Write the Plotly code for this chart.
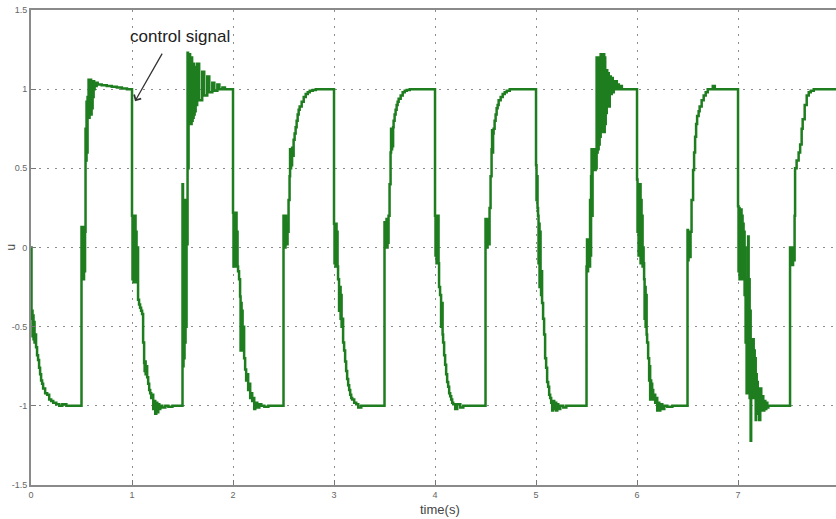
import plotly.graph_objects as go

# ---- data (time in s, control signal u) ----
t_a = [0, 0.005, 0.01, 0.015, 0.02, 0.025, 0.03, 0.035, 0.04, 0.05, 0.06, 0.07, 0.08, 0.09, 0.10, 0.11, 0.12, 0.14, 0.16, 0.18, 0.20, 0.22, 0.25, 0.28, 0.31, 0.35]
u_a = [0, -0.45, -0.40, -0.56, -0.43, -0.58, -0.47, -0.60, -0.55, -0.63, -0.68, -0.71, -0.76, -0.80, -0.84, -0.86, -0.89, -0.92, -0.93, -0.96, -0.97, -0.98, -0.99, -1.0, -0.99, -1.0]

t_b = [0.5, 0.503, 0.507, 0.51, 0.515, 0.52, 0.525, 0.53, 0.535, 0.54, 0.545, 0.55, 0.555, 0.56, 0.565, 0.57, 0.575, 0.58, 0.585, 0.59, 0.595, 0.60, 0.605, 0.61, 0.615, 0.62, 0.625, 0.63, 0.64, 0.65, 0.66, 0.68, 0.70, 0.75, 0.80, 0.85, 0.90, 0.95]
u_b = [0.13, -0.2, 0.1, -0.18, 0.12, -0.2, 0.13, -0.15, 0.1, 0.75, 0.55, 0.92, 0.60, 0.95, 0.82, 1.06, 0.82, 1.05, 0.85, 1.06, 0.84, 1.05, 0.88, 1.04, 0.95, 1.05, 1.0, 1.04, 1.02, 1.04, 1.03, 1.03, 1.025, 1.02, 1.015, 1.01, 1.005, 1.0]

t_c = [1.0, 1.005, 1.01, 1.015, 1.02, 1.025, 1.03, 1.035, 1.04, 1.045, 1.05, 1.06, 1.07, 1.08, 1.09, 1.10, 1.11, 1.12, 1.125, 1.13, 1.135, 1.14, 1.15, 1.16, 1.17, 1.18, 1.19, 1.20, 1.21, 1.22, 1.23, 1.24, 1.25, 1.26, 1.27, 1.28, 1.30, 1.33, 1.36, 1.40]
u_c = [0.2, -0.2, 0.18, -0.22, 0.15, -0.2, 0.2, -0.18, 0.1, -0.22, 0.0, -0.33, -0.36, -0.38, -0.40, -0.42, -0.60, -0.73, -0.78, -0.72, -0.80, -0.75, -0.82, -0.86, -0.90, -0.92, -0.95, -0.93, -1.02, -0.97, -1.05, -0.98, -1.04, -0.99, -1.02, -1.0, -1.01, -1.0, -1.005, -1.0]

t_d = [1.5, 1.505, 1.51, 1.515, 1.52, 1.525, 1.53, 1.535, 1.54, 1.545, 1.55, 1.555, 1.56, 1.565, 1.57, 1.575, 1.58, 1.585, 1.59, 1.595, 1.60, 1.605, 1.61, 1.615, 1.62, 1.625, 1.63, 1.635, 1.645, 1.665, 1.695, 1.715, 1.745, 1.765, 1.795, 1.815, 1.845, 1.865, 1.895, 1.92]
u_d = [0.4, -0.75, 0.13, -0.7, 0.3, -0.6, 0.1, -0.5, 0.3, 0.02, 1.23, 0.5, 1.2, 0.78, 1.22, 0.8, 1.18, 0.78, 1.2, 0.8, 1.15, 0.82, 1.16, 0.84, 1.12, 0.86, 1.14, 0.9, 1.16, 0.93, 1.11, 0.96, 1.08, 0.98, 1.04, 0.99, 1.03, 1.0, 1.01, 1.0]

t_e = [2.0, 2.005, 2.01, 2.015, 2.02, 2.025, 2.03, 2.035, 2.04, 2.045, 2.05, 2.06, 2.07, 2.075, 2.08, 2.085, 2.09, 2.095, 2.10, 2.11, 2.12, 2.13, 2.14, 2.15, 2.16, 2.17, 2.18, 2.19, 2.20, 2.21, 2.22, 2.24, 2.26, 2.28, 2.31, 2.35]
u_e = [0.22, -0.12, 0.2, -0.1, 0.18, -0.12, 0.22, -0.08, 0.1, -0.12, -0.15, -0.2, -0.31, -0.65, -0.35, -0.6, -0.4, -0.65, -0.5, -0.7, -0.77, -0.84, -0.8, -0.9, -0.86, -0.95, -0.92, -0.97, -0.95, -1.02, -0.98, -1.01, -0.99, -1.0, -1.005, -1.0]

t_f = [2.5, 2.505, 2.51, 2.515, 2.52, 2.525, 2.53, 2.535, 2.54, 2.55, 2.56, 2.565, 2.57, 2.575, 2.58, 2.585, 2.59, 2.60, 2.61, 2.62, 2.63, 2.64, 2.65, 2.66, 2.68, 2.70, 2.72, 2.74, 2.76, 2.79, 2.82]
u_f = [0.2, 0.02, 0.18, 0.0, 0.2, 0.05, 0.15, 0.02, 0.1, 0.3, 0.45, 0.62, 0.5, 0.6, 0.52, 0.63, 0.58, 0.68, 0.72, 0.76, 0.80, 0.84, 0.87, 0.89, 0.92, 0.95, 0.97, 0.98, 0.99, 0.995, 1.0]

t_g = [3.0, 3.005, 3.01, 3.015, 3.02, 3.025, 3.03, 3.035, 3.04, 3.05, 3.06, 3.065, 3.07, 3.075, 3.08, 3.09, 3.10, 3.11, 3.12, 3.13, 3.14, 3.15, 3.16, 3.17, 3.18, 3.20, 3.22, 3.24, 3.27, 3.30]
u_g = [0.15, -0.1, 0.12, -0.12, 0.15, -0.05, 0.1, -0.12, -0.2, -0.4, -0.25, -0.45, -0.3, -0.5, -0.45, -0.6, -0.65, -0.72, -0.78, -0.83, -0.87, -0.9, -0.93, -0.95, -0.96, -0.98, -0.99, -1.01, -1.0, -1.0]

t_h = [3.5, 3.505, 3.51, 3.515, 3.52, 3.525, 3.53, 3.535, 3.54, 3.55, 3.56, 3.565, 3.57, 3.575, 3.58, 3.585, 3.59, 3.60, 3.61, 3.62, 3.63, 3.64, 3.66, 3.68, 3.70, 3.72, 3.75, 3.78]
u_h = [0.16, 0.0, 0.15, 0.02, 0.18, 0.0, 0.12, 0.03, 0.2, 0.4, 0.6, 0.75, 0.62, 0.74, 0.64, 0.76, 0.8, 0.84, 0.87, 0.9, 0.92, 0.94, 0.96, 0.98, 0.99, 0.995, 1.0, 1.0]

t_i = [4.0, 4.005, 4.01, 4.015, 4.02, 4.025, 4.03, 4.035, 4.04, 4.05, 4.06, 4.07, 4.075, 4.08, 4.09, 4.10, 4.11, 4.12, 4.13, 4.14, 4.15, 4.16, 4.17, 4.18, 4.20, 4.22, 4.25, 4.28, 4.32]
u_i = [0.2, -0.05, 0.18, -0.1, 0.15, -0.05, 0.2, -0.1, -0.25, -0.3, -0.5, -0.35, -0.55, -0.6, -0.68, -0.74, -0.8, -0.85, -0.88, -0.92, -0.94, -0.96, -0.98, -0.99, -1.02, -0.99, -1.01, -1.0, -1.0]

t_j = [4.5, 4.505, 4.51, 4.515, 4.52, 4.525, 4.53, 4.535, 4.54, 4.55, 4.56, 4.565, 4.57, 4.575, 4.58, 4.59, 4.60, 4.61, 4.62, 4.63, 4.65, 4.67, 4.69, 4.71, 4.74, 4.78]
u_j = [0.18, 0.02, 0.16, 0.0, 0.18, 0.04, 0.14, 0.02, 0.25, 0.45, 0.62, 0.74, 0.6, 0.72, 0.75, 0.8, 0.84, 0.88, 0.9, 0.93, 0.95, 0.97, 0.98, 0.99, 1.0, 1.0]

t_k = [5.0, 5.005, 5.01, 5.015, 5.02, 5.025, 5.03, 5.035, 5.04, 5.045, 5.05, 5.055, 5.06, 5.07, 5.08, 5.09, 5.10, 5.11, 5.12, 5.13, 5.14, 5.15, 5.16, 5.17, 5.18, 5.19, 5.20, 5.21, 5.22, 5.24, 5.27, 5.30, 5.35]
u_k = [0.52, 0.3, 0.45, 0.25, 0.2, -0.1, 0.15, -0.25, 0.1, -0.2, -0.3, -0.15, -0.35, -0.45, -0.55, -0.7, -0.76, -0.85, -0.88, -0.93, -0.95, -0.98, -1.03, -0.97, -1.02, -0.98, -1.03, -0.99, -1.02, -1.0, -1.01, -1.0, -1.0]

t_l = [5.5, 5.505, 5.51, 5.515, 5.52, 5.525, 5.53, 5.535, 5.54, 5.545, 5.55, 5.555, 5.56, 5.565, 5.57, 5.575, 5.58, 5.585, 5.59, 5.595, 5.60, 5.605, 5.61, 5.615, 5.62, 5.625, 5.63, 5.635, 5.64, 5.645, 5.65, 5.655, 5.66, 5.665, 5.67, 5.675, 5.68, 5.685, 5.69, 5.695, 5.70, 5.705, 5.71, 5.72, 5.73, 5.74, 5.75, 5.76, 5.77, 5.78, 5.79, 5.80, 5.81, 5.82, 5.83, 5.85, 5.88]
u_l = [-0.12, 0.05, -0.15, 0.02, -0.1, 0.05, -0.12, 0.3, -0.05, 0.45, 0.62, 0.2, 0.6, 0.49, 0.62, 0.5, 0.6, 0.49, 0.55, 0.5, 1.2, 0.6, 1.18, 0.62, 1.2, 0.65, 1.15, 0.7, 1.22, 0.73, 1.21, 0.75, 1.18, 0.8, 1.22, 0.73, 1.2, 0.78, 1.1, 0.85, 1.12, 0.9, 1.1, 0.89, 1.08, 0.97, 1.07, 0.98, 1.05, 1.0, 1.05, 1.0, 1.03, 1.0, 1.02, 1.0, 1.0]

t_m = [6.0, 6.005, 6.01, 6.015, 6.02, 6.025, 6.03, 6.035, 6.04, 6.045, 6.05, 6.055, 6.06, 6.065, 6.07, 6.075, 6.08, 6.085, 6.09, 6.095, 6.10, 6.11, 6.12, 6.125, 6.13, 6.135, 6.14, 6.145, 6.15, 6.16, 6.17, 6.18, 6.19, 6.20, 6.21, 6.22, 6.23, 6.25, 6.27, 6.30, 6.35]
u_m = [0.43, 0.1, 0.4, -0.05, 0.38, 0.0, 0.4, -0.1, 0.3, -0.1, 0.2, -0.12, 0.0, -0.1, -0.2, -0.45, -0.25, -0.5, -0.3, -0.55, -0.6, -0.7, -0.84, -0.75, -0.96, -0.84, -0.95, -0.86, -0.9, -0.96, -0.93, -0.98, -0.95, -1.03, -0.98, -1.03, -0.99, -1.02, -1.0, -1.005, -1.0]

t_n = [6.5, 6.505, 6.51, 6.515, 6.52, 6.525, 6.53, 6.54, 6.555, 6.565, 6.575, 6.585, 6.595, 6.61, 6.62, 6.64, 6.66, 6.68, 6.70, 6.73, 6.75, 6.77, 6.80]
u_n = [0.11, -0.08, 0.1, -0.05, 0.08, -0.06, 0.1, 0.3, 0.49, 0.6, 0.7, 0.78, 0.83, 0.86, 0.89, 0.93, 0.96, 0.98, 1.0, 1.0, 1.02, 1.0, 1.0]

t_o = [7.0, 7.005, 7.01, 7.015, 7.02, 7.025, 7.03, 7.035, 7.04, 7.045, 7.05, 7.055, 7.06, 7.065, 7.07, 7.075, 7.08, 7.085, 7.09, 7.095, 7.10, 7.105, 7.11, 7.115, 7.12, 7.125, 7.13, 7.135, 7.14, 7.145, 7.15, 7.155, 7.16, 7.165, 7.17, 7.175, 7.18, 7.185, 7.19, 7.195, 7.20, 7.21, 7.22, 7.23, 7.24, 7.25, 7.26, 7.27, 7.28, 7.29, 7.30, 7.32, 7.35]
u_o = [0.26, -0.15, 0.25, -0.2, 0.22, -0.18, 0.24, -0.1, 0.2, -0.2, 0.15, -0.2, 0.1, -0.3, 0.0, -0.6, -0.2, -0.92, -0.3, -0.85, 0.07, -0.9, -0.2, -0.95, -0.4, -1.22, -0.58, -0.92, -0.6, -0.95, -0.58, -0.9, -0.65, -0.92, -0.7, -1.09, -0.8, -0.95, -0.85, -1.05, -0.9, -1.09, -0.89, -1.03, -0.94, -1.03, -0.97, -1.02, -0.98, -1.01, -1.0, -1.0, -1.0]

t_p = [7.5, 7.515, 7.52, 7.525, 7.53, 7.535, 7.54, 7.545, 7.55, 7.56, 7.565, 7.58, 7.60, 7.615, 7.63, 7.64, 7.66, 7.68, 7.70, 7.72, 7.75, 7.80, 7.97]
u_p = [-1.0, 0.0, -0.11, 0.0, -0.1, -0.02, -0.11, 0.0, -0.08, 0.2, 0.5, 0.55, 0.6, 0.65, 0.75, 0.81, 0.9, 0.96, 0.98, 0.99, 1.0, 1.0, 1.0]

x_ticks = [0, 1, 2, 3, 4, 5, 6, 7]
y_ticks = [-1.5, -1, -0.5, 0, 0.5, 1, 1.5]
y_tick_labels = ["-1.5", "-1", "-0.5", "0", "0.5", "1", "1.5"]

t_all = t_a + t_b + t_c + t_d + t_e + t_f + t_g + t_h + t_i + t_j + t_k + t_l + t_m + t_n + t_o + t_p
u_all = u_a + u_b + u_c + u_d + u_e + u_f + u_g + u_h + u_i + u_j + u_k + u_l + u_m + u_n + u_o + u_p

fig = go.Figure()
fig.add_trace(go.Scatter(
    x=t_all, y=u_all, mode="lines",
    line=dict(color="#1e7d1e", width=2.5, shape="hv"),
    showlegend=False, hoverinfo="skip",
))

grid_style = dict(showgrid=True, gridcolor="#8c8c8c", griddash="2px,6px", gridwidth=1)

fig.update_layout(
    width=836, height=519,
    margin=dict(l=31, r=0, t=10, b=34),
    paper_bgcolor="white", plot_bgcolor="white",
    font=dict(family="Liberation Sans, Arial, sans-serif", color="#555555"),
    xaxis=dict(
        range=[0, 7.97], tickvals=x_ticks, ticks="inside", ticklen=5, tickcolor="#777",
        showline=True, linecolor="#8a8a8a", linewidth=2, mirror=True,
        zeroline=False, tickfont=dict(size=9, color="#666"), **grid_style,
    ),
    yaxis=dict(
        range=[-1.5, 1.5], tickvals=y_ticks, ticktext=y_tick_labels, ticks="inside", ticklen=5,
        tickcolor="#777", showline=True, linecolor="#8a8a8a", linewidth=2, mirror=False,
        zeroline=False, tickfont=dict(size=9, color="#666"), **grid_style,
    ),
    annotations=[
        dict(text="time(s)", xref="paper", yref="paper", x=0.508, y=0, yshift=-24,
             xanchor="center", yanchor="middle",
             showarrow=False, font=dict(size=13, color="#444")),
        dict(text="u", xref="paper", yref="paper", x=0, y=0.5, xshift=-21, textangle=-90,
             xanchor="center", yanchor="middle",
             showarrow=False, font=dict(size=12, color="#444")),
        dict(text="control signal", xref="x", yref="y", x=1.48, y=1.335,
             showarrow=False, font=dict(size=17, color="#222")),
        dict(text="", xref="x", yref="y", x=1.03, y=0.924, axref="x", ayref="y",
             ax=1.307, ay=1.234, showarrow=True, arrowhead=4, arrowsize=1.2,
             arrowwidth=1.3, arrowcolor="#333"),
    ],
)

fig.write_html("out.html")
